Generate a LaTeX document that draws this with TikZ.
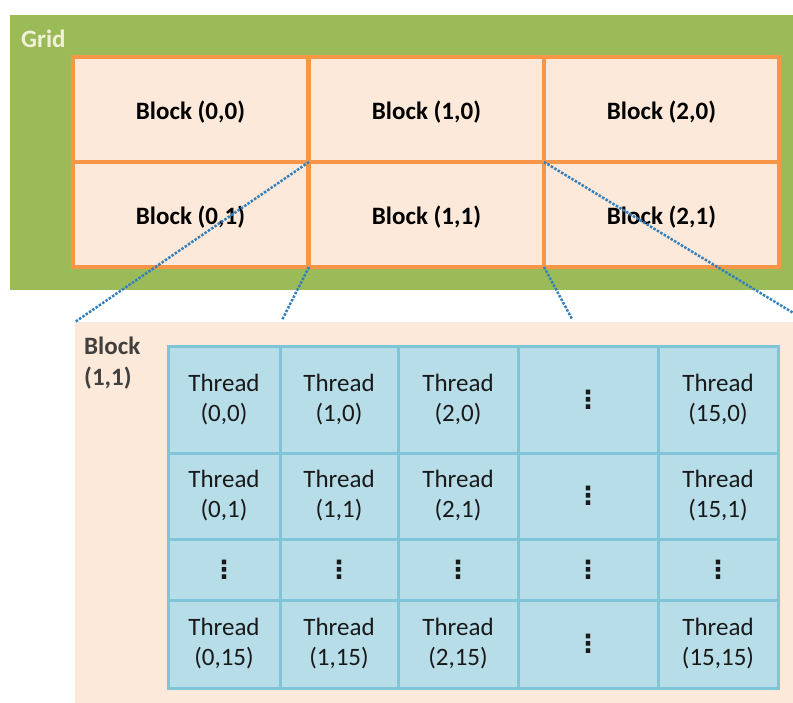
\documentclass[tikz,border=0pt]{standalone}
\usepackage{fontspec}
\setmainfont{Carlito}
\newfontfamily\dotsfont{DejaVu Sans}
\usetikzlibrary{positioning}
\definecolor{gridgreen}{RGB}{155,187,89}
\definecolor{blkorange}{RGB}{247,150,70}
\definecolor{blkpeach}{RGB}{253,233,217}
\definecolor{thrblue}{RGB}{183,221,232}
\definecolor{thredge}{RGB}{128,196,216}
\definecolor{zoomblue}{RGB}{52,128,188}
\definecolor{gridtxt}{RGB}{242,240,214}
\newcommand{\vd}{{\dotsfont\bfseries ⋮}}
\tikzset{
  blk/.style={draw=blkorange,fill=blkpeach,line width=4pt,outer sep=0pt,inner sep=0pt,minimum width=235pt,minimum height=105pt,text height=25pt,text depth=5pt,font=\fontsize{25}{30}\selectfont\bfseries},
  thr/.style={draw=thredge,fill=thrblue,line width=3pt,outer sep=0pt,inner sep=0pt,align=center,text=black!90,font=\fontsize{25}{30}\selectfont},
  wA/.style={minimum width=112pt}, wB/.style={minimum width=118pt}, wC/.style={minimum width=120pt},
  wD/.style={minimum width=140pt}, wE/.style={minimum width=120pt},
  hA/.style={minimum height=107pt}, hB/.style={minimum height=86pt}, hC/.style={minimum height=61pt}, hD/.style={minimum height=88pt},
  zoomln/.style={zoomblue,line width=2.5pt,dash pattern=on 2.5pt off 1.5pt},
  lbl/.style={inner sep=0pt,anchor=north west,align=left,font=\fontsize{25}{31}\selectfont\bfseries}
}
\begin{document}
\begin{tikzpicture}[x=1pt,y=-1pt]
  \useasboundingbox (0,0) rectangle (793,702);
  \clip (0,0) rectangle (793,702);
  % grid of blocks
  \fill[gridgreen] (10,15) rectangle (800,290);
  \node[lbl,text=gridtxt] (gridlbl) at (21,30) {Grid};
  \node[blk] (b00) at (190.5,109.5) {Block (0,0)}; \node[blk] (b10) at (426.5,109.5) {Block (1,0)}; \node[blk] (b20) at (661.5,109.5) {Block (2,0)};
  \node[blk] (b01) at (190.5,214.5) {Block (0,1)}; \node[blk] (b11) at (426.5,214.5) {Block (1,1)}; \node[blk] (b21) at (661.5,214.5) {Block (2,1)};
  % one block, enlarged
  \fill[blkpeach] (75,322) rectangle (800,710);
  \coordinate (z1) at (75,322); \coordinate (z2) at (282,320); \coordinate (z3) at (800,317); \coordinate (z4) at (572,319);
  \draw[zoomln] (b11.north west) -- (z1); \draw[zoomln] (b11.south west) -- (z2);
  \draw[zoomln] (b11.north east) -- (z3); \draw[zoomln] (b11.south east) -- (z4);
  \node[lbl,text=black!75] (blklbl) at (84,337) {Block\\(1,1)};
  % threads
  \node[thr,wA,hA] (t00) at (224,399.5) {Thread\\(0,0)}; \node[thr,wB,hA] (t10) at (339,399.5) {Thread\\(1,0)}; \node[thr,wC,hA] (t20) at (458,399.5) {Thread\\(2,0)};
  \node[thr,wD,hA] (t30) at (588,399.5) {\vd}; \node[thr,wE,hA] (t40) at (718,399.5) {Thread\\(15,0)};
  \node[thr,wA,hB] (t01) at (224,496) {Thread\\(0,1)}; \node[thr,wB,hB] (t11) at (339,496) {Thread\\(1,1)}; \node[thr,wC,hB] (t21) at (458,496) {Thread\\(2,1)};
  \node[thr,wD,hB] (t31) at (588,496) {\vd}; \node[thr,wE,hB] (t41) at (718,496) {Thread\\(15,1)};
  \node[thr,wA,hC] (t02) at (224,569.5) {\vd}; \node[thr,wB,hC] (t12) at (339,569.5) {\vd}; \node[thr,wC,hC] (t22) at (458,569.5) {\vd};
  \node[thr,wD,hC] (t32) at (588,569.5) {\vd}; \node[thr,wE,hC] (t42) at (718,569.5) {\vd};
  \node[thr,wA,hD] (t03) at (224,644) {Thread\\(0,15)}; \node[thr,wB,hD] (t13) at (339,644) {Thread\\(1,15)}; \node[thr,wC,hD] (t23) at (458,644) {Thread\\(2,15)};
  \node[thr,wD,hD] (t33) at (588,644) {\vd}; \node[thr,wE,hD] (t43) at (718,644) {Thread\\(15,15)};
\end{tikzpicture}
\end{document}
